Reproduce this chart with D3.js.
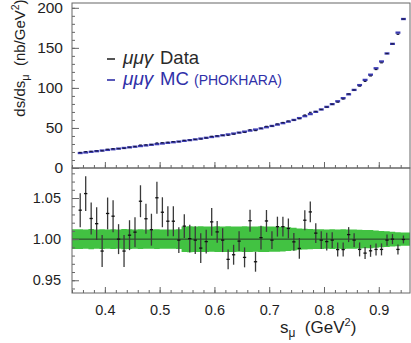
<!DOCTYPE html>
<html><head><meta charset="utf-8">
<script src="https://cdn.jsdelivr.net/npm/d3@7"></script>
<style>body{margin:0;background:#fff}svg{display:block}text{font-family:"Liberation Sans",Arial,sans-serif}</style>
</head><body>
<svg id="c" width="411" height="343"></svg>
<script>
// ---- data ----
const sBins=[0.355,0.365,0.375,0.385,0.395,0.405,0.415,0.425,0.435,0.445,0.455,0.465,0.475,0.485,0.495,0.505,0.515,0.525,0.535,0.545,0.555,0.565,0.575,0.585,0.595,0.605,0.615,0.625,0.635,0.645,0.655,0.665,0.675,0.685,0.695,0.705,0.715,0.725,0.735,0.745,0.755,0.765,0.775,0.785,0.795,0.805,0.815,0.825,0.835,0.845,0.855,0.865,0.875,0.885,0.895,0.905,0.915,0.925,0.935,0.945];
const mcVals=[18.7,19.4,20.2,21.0,21.8,22.6,23.4,24.2,25.0,25.8,26.6,27.4,28.2,29.0,29.8,30.6,31.4,32.2,33.0,33.9,34.8,35.7,36.7,37.7,38.7,39.7,40.8,41.9,43.0,44.2,45.4,46.7,48.0,49.4,50.9,52.5,54.2,56.0,57.9,60.0,62.3,64.7,67.3,70.1,73.1,76.3,79.7,83.3,87.2,92.0,97.5,103.5,110.0,116.5,124.5,133.0,143.0,155.0,169.0,186.0];
const dataVals=[19.35,20.47,20.7,21.4,21.48,23.3,24.05,24.2,24.64,25.93,26.83,28.66,28.9,29.33,31.29,31.61,32.09,32.91,32.97,34.44,34.8,35.66,36.3,37.59,39.51,40.06,40.76,40.85,42.18,44.11,44.4,47.73,46.68,49.5,52.02,52.45,55.01,56.84,58.65,59.8,61.6,66.2,69.5,70.6,73.0,76.1,79.6,82.2,86.1,92.5,97.4,102.2,108.1,114.9,122.9,131.3,142.9,155.0,166.9,186.0];
const ratioVals=[1.0352,1.0554,1.0251,1.0188,0.9855,1.0312,1.0279,1.0000,0.9855,1.0048,1.0085,1.0461,1.0248,1.0115,1.0503,1.0327,1.0218,1.0218,0.9988,1.0158,1.0006,0.9988,0.9891,0.9970,1.0210,1.0088,0.9988,0.9754,0.9810,0.9976,0.9778,1.0224,0.9725,1.0018,1.0221,0.9988,1.0152,1.0152,1.0130,0.9967,0.9887,1.0230,1.0331,1.0073,0.9988,0.9970,0.9988,0.9873,0.9873,1.0055,0.9988,0.9875,0.9830,0.9858,0.9875,0.9875,0.9988,1.0000,0.9875,0.9996];
const ratioErr=[0.0206,0.0212,0.0194,0.0200,0.0194,0.0194,0.0194,0.0182,0.0194,0.0182,0.0182,0.0194,0.0182,0.0194,0.0194,0.0182,0.0182,0.0182,0.0158,0.0145,0.0170,0.0170,0.0182,0.0145,0.0170,0.0133,0.0145,0.0121,0.0121,0.0121,0.0121,0.0133,0.0121,0.0145,0.0133,0.0109,0.0121,0.0121,0.0121,0.0109,0.0127,0.0121,0.0127,0.0121,0.0109,0.0109,0.0097,0.0085,0.0085,0.0091,0.0085,0.0085,0.0073,0.0073,0.0073,0.0073,0.0067,0.0061,0.0061,0.0048];
const bandHalf=[0.0120,0.0118,0.0122,0.0118,0.0120,0.0116,0.0120,0.0118,0.0122,0.0120,0.0118,0.0120,0.0116,0.0118,0.0120,0.0118,0.0116,0.0118,0.0120,0.0155,0.0158,0.0155,0.0157,0.0155,0.0153,0.0156,0.0155,0.0157,0.0155,0.0153,0.0156,0.0155,0.0154,0.0156,0.0155,0.0153,0.0152,0.0150,0.0145,0.0138,0.0130,0.0125,0.0122,0.0120,0.0120,0.0118,0.0120,0.0118,0.0120,0.0118,0.0116,0.0115,0.0112,0.0110,0.0105,0.0100,0.0095,0.0090,0.0085,0.0080];
const binWidth=0.01;
const xTicks=[0.4,0.5,0.6,0.7,0.8,0.9];
const yTopTicks=[0,50,100,150,200];
const yRatioTicks=[0.95,1.00,1.05];

// ---- layout ----
const svg=d3.select('#c');
const L=72,R=410,TT=3,TB=168,BT=168,BB=293;
const x=d3.scaleLinear().domain([0.34,0.957]).range([L,R]);
const yT=d3.scaleLinear().domain([0,206]).range([TB,TT]);
const yR=d3.scaleLinear().domain([0.9345,1.0865]).range([BB,BT]);
const axisCol='#666', textCol='#1e1e1e';

// ---- ratio panel band ----
const bandPts=[];
sBins.forEach((s,i)=>{
  const lo=i===0?x.domain()[0]:s-binWidth/2;
  const hi=i===sBins.length-1?x.domain()[1]:s+binWidth/2;
  bandPts.push({s:lo,h:bandHalf[i]},{s:hi,h:bandHalf[i]});
});
svg.append('path').datum(bandPts)
  .attr('d',d3.area().x(d=>x(d.s)).y0(d=>yR(1-d.h)).y1(d=>yR(1+d.h)))
  .attr('fill','#42c242');
svg.append('line').attr('x1',x.range()[0]).attr('x2',x.range()[1])
  .attr('y1',yR(1)).attr('y2',yR(1)).attr('stroke','#2a3a2a').attr('stroke-width',1);

// ratio points
const rp=svg.append('g').attr('stroke','#3a3a3a').attr('stroke-width',1.3);
sBins.forEach((s,i)=>{
  rp.append('line').attr('x1',x(s)).attr('x2',x(s))
    .attr('y1',yR(ratioVals[i]+ratioErr[i])).attr('y2',yR(ratioVals[i]-ratioErr[i]));
  rp.append('line').attr('x1',x(s-0.003)).attr('x2',x(s+0.003))
    .attr('y1',yR(ratioVals[i])).attr('y2',yR(ratioVals[i])).attr('stroke','#111');
});

// ---- top panel points ----
const tp=svg.append('g');
sBins.forEach((s,i)=>{
  tp.append('line').attr('x1',x(s-0.0045)).attr('x2',x(s+0.0045))
    .attr('y1',yT(mcVals[i])).attr('y2',yT(mcVals[i]))
    .attr('stroke','#3a3ab0').attr('stroke-width',2.3);
  tp.append('line').attr('x1',x(s-0.0025)).attr('x2',x(s+0.0025))
    .attr('y1',yT(dataVals[i])).attr('y2',yT(dataVals[i]))
    .attr('stroke','#1a1a40').attr('stroke-width',1.2);
});

// ---- axes ----
function styleAxis(g){g.select('.domain').remove();g.selectAll('line').attr('stroke',axisCol);g.selectAll('text').attr('fill',textCol);}
svg.append('g').attr('transform',`translate(${L},0)`)
  .call(d3.axisLeft(yT).tickValues(d3.range(0,206,10)).tickSize(-3).tickFormat(''))
  .call(styleAxis);
svg.append('g').attr('transform',`translate(${L},0)`)
  .call(d3.axisLeft(yT).tickValues(yTopTicks).tickSize(-7).tickPadding(9).tickFormat(d3.format('d')))
  .call(styleAxis).selectAll('text').attr('font-size',15.5);
svg.append('g').attr('transform',`translate(${L},0)`)
  .call(d3.axisLeft(yR).tickValues(d3.range(0.94,1.085,0.01)).tickSize(-3).tickFormat(''))
  .call(styleAxis);
svg.append('g').attr('transform',`translate(${L},0)`)
  .call(d3.axisLeft(yR).tickValues(yRatioTicks).tickSize(-7).tickPadding(11).tickFormat(d3.format('.2f')))
  .call(styleAxis).selectAll('text').attr('font-size',14.5);
const minorX=d3.range(0.34,0.957,0.02);
[TB,BB].forEach((yy,k)=>{
  svg.append('g').attr('transform',`translate(0,${yy})`)
    .call(d3.axisBottom(x).tickValues(minorX).tickSize(-3).tickFormat(''))
    .call(styleAxis);
  const g=svg.append('g').attr('transform',`translate(0,${yy})`)
    .call(d3.axisBottom(x).tickValues(xTicks).tickSize(-6).tickPadding(9).tickFormat(k===1?d3.format('.1f'):''))
    .call(styleAxis);
  g.selectAll('text').attr('font-size',14.5).attr('dy','0.9em');
});

svg.append('rect').attr('x',L).attr('y',TT).attr('width',R-L).attr('height',TB-TT)
  .attr('fill','none').attr('stroke',axisCol).attr('stroke-width',1);
svg.append('rect').attr('x',L).attr('y',BT).attr('width',R-L).attr('height',BB-BT)
  .attr('fill','none').attr('stroke',axisCol).attr('stroke-width',1);

// ---- axis titles ----
const xt=svg.append('text').attr('x',280).attr('y',333).attr('font-size',17).attr('fill',textCol);
xt.append('tspan').text('s');
xt.append('tspan').attr('font-size',12).attr('dy',4).text('μ');
xt.append('tspan').attr('dy',-4).text('\u00a0\u00a0(GeV');
xt.append('tspan').attr('font-size',11).attr('dy',-7).text('2');
xt.append('tspan').attr('dy',7).text(')');

const yt=svg.append('text').attr('transform','translate(25,58) rotate(-90)')
  .attr('text-anchor','middle').attr('font-size',15).attr('fill',textCol);
yt.append('tspan').text('ds/ds');
yt.append('tspan').attr('font-size',11).attr('dy',4).text('μ');
yt.append('tspan').attr('dy',-4).text('\u00a0\u00a0(nb/GeV');
yt.append('tspan').attr('font-size',10.5).attr('dy',-6).text('2');
yt.append('tspan').attr('dy',6).text(')');

// ---- legend ----
const legendItems=[
  {label:'Data',extra:'',color:'#2a2a2a',y:64},
  {label:'MC',extra:'(PHOKHARA)',color:'#3030a8',y:85}
];
legendItems.forEach(d=>{
  svg.append('line').attr('x1',107).attr('x2',115).attr('y1',d.y-5).attr('y2',d.y-5)
    .attr('stroke',d.color).attr('stroke-width',1.6);
  svg.append('text').attr('x',123).attr('y',d.y).attr('font-size',19).attr('font-style','italic')
    .attr('font-family','"Liberation Serif",serif').attr('fill',d.color).text('μμγ');
  svg.append('text').attr('x',160).attr('y',d.y).attr('font-size',18.5).attr('fill',d.color).text(d.label);
  if(d.extra) svg.append('text').attr('x',194).attr('y',d.y).attr('font-size',14).attr('fill',d.color).text(d.extra);
});
</script>
</body></html>
